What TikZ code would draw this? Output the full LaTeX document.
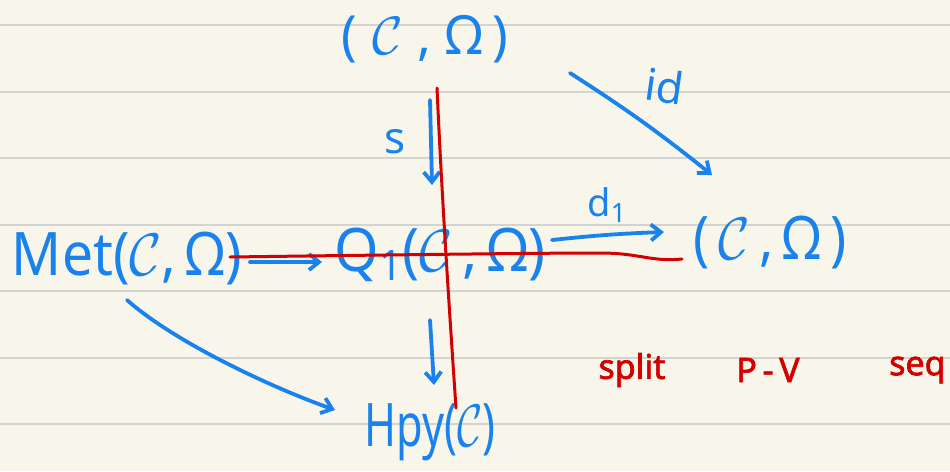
\RequirePackage{fix-cm}
\documentclass[tikz,border=0pt]{standalone}
\usepackage{fontspec}
\setmainfont{Noto Sans}
\newfontfamily\redfont[FakeBold=2]{Noto Sans}
\usetikzlibrary{arrows.meta,calc}
\definecolor{paper}{HTML}{F8F6EA}
\definecolor{ruleline}{HTML}{D3D3D1}
\definecolor{ink}{HTML}{1A82EC}
\definecolor{redink}{HTML}{D20000}
\newcommand{\Cc}{$\mathcal{C}$}
\begin{document}
\begin{tikzpicture}[x=1pt,y=-1pt,
  bigtext/.style={text=ink, font=\fontsize{60}{64}\selectfont, inner sep=0pt, anchor=center},
  smalltext/.style={text=ink, font=\fontsize{44}{48}\selectfont, inner sep=0pt},
  redtext/.style={text=redink, font=\redfont\fontsize{34}{38}\selectfont, inner sep=0pt},
  bluearrow/.style={draw=ink, line width=3.8pt, line cap=round, line join=round, -{Straight Barb[length=10pt, width=16pt]}},
  redstroke/.style={draw=redink, line width=3pt, line cap=round}]
\fill[paper] (0,0) rectangle (950,471);
\useasboundingbox (0,0) rectangle (950,471);
\foreach \yy in {25,91.5,158,224.5,291,357.5,424}
  \draw[ruleline, line width=2pt] (0,\yy) -- (950,\yy);

% nodes
\node[bigtext, font=\fontsize{54}{58}\selectfont, xscale=0.97] (top) at (425,39) {(\;\Cc\;,\;Ω\,)};
\node[bigtext, xscale=0.92] (met) at (127,258) {Met(\Cc,\,Ω)};
\node[bigtext, xscale=0.95] (q1) at (440,255) {Q\textsubscript{1}(\Cc\,,\,Ω)};
\node[bigtext, xscale=0.9] (right) at (770,242) {(\,\Cc\,,\,Ω\,)};
\node[bigtext, xscale=0.72] (hpy) at (430,432) {Hpy(\Cc)};

% labels
\node[smalltext] (slab) at (395,142) {s};
\node[smalltext, rotate=-8] (idlab) at (665,86) {id};
\node[smalltext, font=\fontsize{38}{40}\selectfont] (dlab) at (607,205) {d\textsubscript{1}};

% connectors
\draw[bluearrow] ($(top)+(5,61)$) -- ($(q1)+(-8,-70)$);
\draw[bluearrow] ($(top)+(145,34)$) to[bend left=3] ($(right)+(-58,-67)$);
\draw[bluearrow] ($(q1)+(112,-15)$) to[bend left=2] ($(right)+(-106,-10)$);
\draw[bluearrow] ($(met)+(123,4)$) -- ($(q1)+(-118,7)$);
\draw[bluearrow] ($(met)+(0,42)$) .. controls +(45,40) and +(-70,-25) .. ($(hpy)+(-95,-22)$);
\draw[bluearrow] ($(q1)+(-10,65)$) -- ($(hpy)+(4,-47)$);

% red text
\node[redtext] (split) at (632,370) {split};
\node[redtext] (pv) at (768,370) {P\,-\,V};
\node[redtext, anchor=west] (seq) at (889,370) {seq};

% red strokes
\draw[redstroke] (437,88) .. controls (442,200) and (450,320) .. (456,408);
\draw[redstroke] (230,257) .. controls (380,255) and (540,253) .. (600,253)
  .. controls (640,253) and (650,262) .. (682,259);
\end{tikzpicture}
\end{document}
